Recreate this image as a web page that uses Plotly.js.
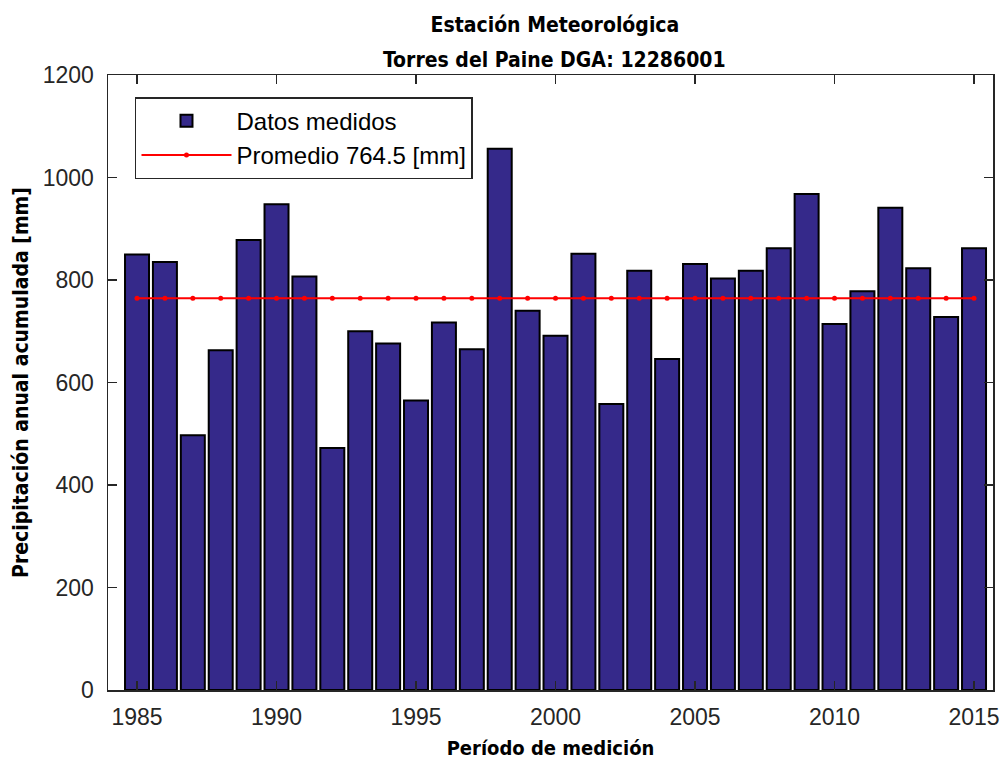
<!DOCTYPE html>
<html>
<head>
<meta charset="utf-8">
<script src="https://cdn.plot.ly/plotly-3.0.1.min.js"></script>
<style>html,body{margin:0;padding:0;background:#fff;}#chart{width:1008px;height:762px;}</style>
</head>
<body>
<div id="chart"></div>
<script>
const years = [1985,1986,1987,1988,1989,1990,1991,1992,1993,1994,1995,1996,1997,1998,1999,2000,
               2001,2002,2003,2004,2005,2006,2007,2008,2009,2010,2011,2012,2013,2014,2015];
const precipitation = [850,835,497,663,878,948,807,472,700,676,565,717,665,1056,740,691,
                       851,558,818,646,831,803,818,862,968,714,778,941,823,728,862];
const meanValue = 764.5;
const meanSeries = years.map(() => meanValue);
const yTicks = [0,200,400,600,800,1000,1200];
const xTicks = [1985,1990,1995,2000,2005,2010,2015];
const titleLines = ['Estación Meteorológica', 'Torres del Paine DGA: 12286001'];

const tickFont = {family: 'Liberation Sans, Arial, sans-serif', size: 23, color: '#262626'};
const boldCond = 'DejaVu Sans Condensed, DejaVu Sans, sans-serif';

const traces = [
  {
    type: 'bar', x: years, y: precipitation, name: 'Datos medidos',
    width: 0.86, legendgroup: 'a',
    marker: {color: '#35298a', line: {color: '#000', width: 2}}
  },
  {
    type: 'scatter', mode: 'lines+markers', x: years, y: meanSeries,
    name: 'Promedio ' + meanValue + ' [mm]', legendgroup: 'b',
    line: {color: '#ff0000', width: 2},
    marker: {color: '#ff0000', size: 5}
  }
];

const layout = {
  width: 1008, height: 762,
  margin: {l: 108, r: 15, t: 75, b: 72},
  paper_bgcolor: '#fff', plot_bgcolor: '#fff',
  showlegend: true,
  title: {
    text: '<b>' + titleLines[0] + '</b>',
    font: {family: boldCond, size: 21, color: '#000'},
    x: 0.505, xanchor: 'center', xref: 'paper', y: 0.968, yanchor: 'middle'
  },
  annotations: [{
    text: '<b>' + titleLines[1] + '</b>', showarrow: false,
    xref: 'paper', yref: 'paper', x: 0.505, y: 1.0252, xanchor: 'center', yanchor: 'middle',
    font: {family: boldCond, size: 21, color: '#000'}
  }],
  xaxis: {
    range: [1983.96, 2015.68], tickvals: xTicks, ticktext: xTicks.map(String),
    ticks: 'inside', ticklen: 9, tickwidth: 1.5, tickcolor: '#262626',
    showline: true, linecolor: '#262626', linewidth: 1.5, mirror: 'ticks',
    showgrid: false, zeroline: false, tickfont: tickFont, ticklabelstandoff: 6,
    title: {text: '<b>Período de medición</b>', font: {family: boldCond, size: 20, color: '#000'}, standoff: 12}
  },
  yaxis: {
    range: [0, 1200], tickvals: yTicks, ticktext: yTicks.map(String),
    ticks: 'inside', ticklen: 9, tickwidth: 1.5, tickcolor: '#262626',
    showline: true, linecolor: '#262626', linewidth: 1.5, mirror: 'ticks',
    showgrid: false, zeroline: false, tickfont: tickFont, ticklabelstandoff: 8,
    title: {text: '<b>Precipitación anual acumulada [mm]</b>', font: {family: boldCond, size: 21, color: '#000'}, standoff: 8}
  },
  legend: {
    x: 0.0305, y: 0.964, xanchor: 'left', yanchor: 'top',
    bgcolor: '#fff', bordercolor: '#262626', borderwidth: 1.5,
    font: {family: 'Liberation Sans, Arial, sans-serif', size: 24, color: '#000'},
    itemwidth: 90, traceorder: 'grouped', tracegroupgap: 0
  },
  bargap: 0
};

Plotly.newPlot('chart', traces, layout, {displayModeBar: false, staticPlot: true});
</script>
</body>
</html>
